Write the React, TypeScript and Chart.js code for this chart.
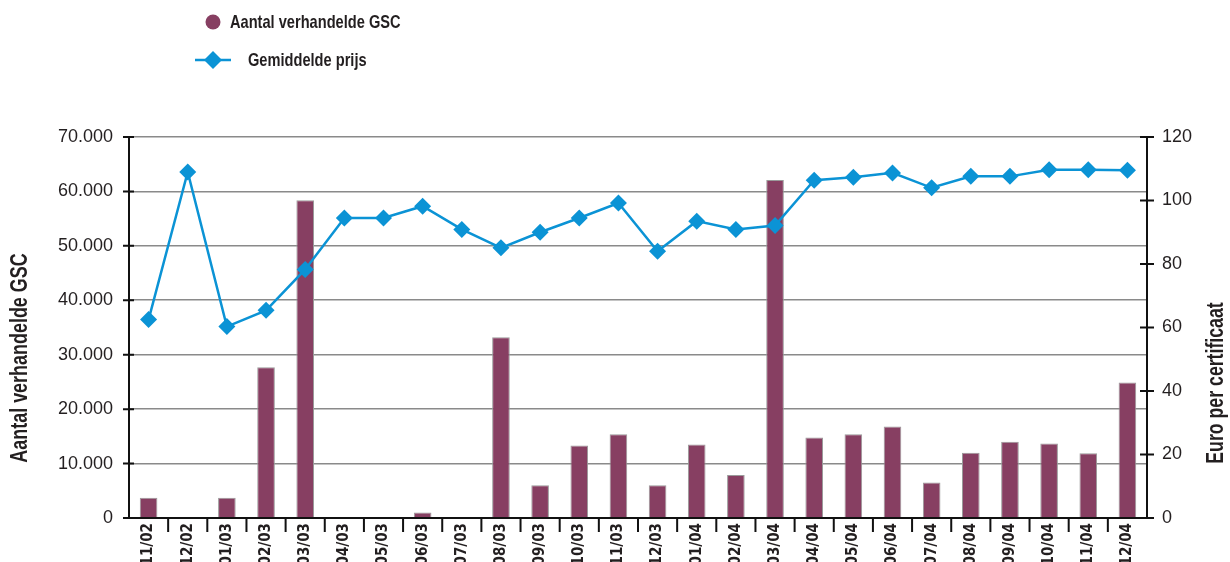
import React, { useEffect, useRef } from "react";
import { Chart, registerables } from "chart.js";

Chart.register(...registerables);

const categories = [
  "11/02", "12/02", "01/03", "02/03", "03/03", "04/03", "05/03", "06/03", "07/03", "08/03",
  "09/03", "10/03", "11/03", "12/03", "01/04", "02/04", "03/04", "04/04", "05/04", "06/04",
  "07/04", "08/04", "09/04", "10/04", "11/04", "12/04",
];
// Aantal verhandelde GSC (left axis)
const volumes = [
  3700, 0, 3700, 27700, 58400, 0, 0, 1000, 0, 33200,
  6000, 13300, 15400, 6000, 13500, 7900, 62100, 14800, 15400, 16800,
  6500, 12000, 14000, 13700, 11900, 24900,
];
// Gemiddelde prijs (right axis, euro per certificaat)
const prices = [
  62.5, 109, 60.3, 65.4, 78.3, 94.5, 94.5, 98.2, 90.9, 85.1,
  90, 94.5, 99.2, 84, 93.5, 90.9, 92.1, 106.4, 107.3, 108.7,
  104, 107.6, 107.6, 109.7, 109.7, 109.5,
];
const seriesNames = ["Aantal verhandelde GSC", "Gemiddelde prijs"];
const axisTitles = ["Aantal verhandelde GSC", "Euro per certificaat"];
const leftRange = [0, 70000, 10000];
const rightRange = [0, 120, 20];

const BAR_COLOR = "#873f62";
const LINE_COLOR = "#0b93d5";
const TEXT = "#231f20";
const NARROW = '"Liberation Sans Narrow", "DejaVu Sans Condensed", sans-serif';
const SANS = '"Liberation Sans", Arial, sans-serif';

const fmt = (v: number) => String(v).replace(/\B(?=(\d{3})+(?!\d))/g, ".");

// draw condensed text (horizontal compression)
function condensedText(ctx: any, text: string, x: number, y: number, sx: number, align: string) {
  ctx.save();
  ctx.translate(x, y);
  ctx.scale(sx, 1);
  ctx.textAlign = align;
  ctx.fillText(text, 0, 0);
  ctx.restore();
}

const decor = {
  id: "decor",
  afterDraw(chart: any) {
    const { ctx, chartArea: ca, scales } = chart;
    const x = scales.x;
    const y = scales.y;
    const y1 = scales.y1;
    ctx.save();
    ctx.strokeStyle = "#111";
    ctx.lineWidth = 2;
    ctx.beginPath();
    ctx.moveTo(ca.left, ca.top - 1);
    ctx.lineTo(ca.left, ca.bottom);
    ctx.lineTo(ca.right, ca.bottom);
    ctx.lineTo(ca.right, ca.top - 1);
    ctx.stroke();
    ctx.beginPath();
    y.ticks.forEach((t: any) => {
      const py = y.getPixelForValue(t.value);
      ctx.moveTo(ca.left - 6, py);
      ctx.lineTo(ca.left + 5, py);
    });
    y1.ticks.forEach((t: any) => {
      const py = y1.getPixelForValue(t.value);
      ctx.moveTo(ca.right - 7, py);
      ctx.lineTo(ca.right + 7, py);
    });
    for (let i = 1; i < categories.length; i++) {
      const px = (x.getPixelForValue(i - 1) + x.getPixelForValue(i)) / 2;
      ctx.moveTo(px, ca.bottom);
      ctx.lineTo(px, ca.bottom + 14);
    }
    ctx.stroke();

    // axis titles
    ctx.fillStyle = TEXT;
    ctx.font = `bold 23px ${SANS}`;
    ctx.textBaseline = "middle";
    ctx.save();
    ctx.translate(21, 358);
    ctx.rotate(-Math.PI / 2);
    condensedText(ctx, axisTitles[0], 0, 0, 0.78, "center");
    ctx.restore();
    ctx.save();
    ctx.translate(1217, 383);
    ctx.rotate(-Math.PI / 2);
    condensedText(ctx, axisTitles[1], 0, 0, 0.77, "center");
    ctx.restore();

    // legend
    const ds = chart.data.datasets;
    const barDs = ds.find((d: any) => d.type === "bar");
    const lineDs = ds.find((d: any) => d.type === "line");
    ctx.font = `bold 18.5px ${SANS}`;
    ctx.fillStyle = barDs.backgroundColor;
    ctx.beginPath();
    ctx.arc(213, 22, 7.5, 0, Math.PI * 2);
    ctx.fill();
    ctx.fillStyle = TEXT;
    condensedText(ctx, barDs.label, 230, 23, 0.79, "left");
    ctx.strokeStyle = lineDs.borderColor;
    ctx.lineWidth = 2.5;
    ctx.beginPath();
    ctx.moveTo(195, 60);
    ctx.lineTo(231, 60);
    ctx.stroke();
    ctx.fillStyle = lineDs.borderColor;
    ctx.beginPath();
    ctx.moveTo(213, 51);
    ctx.lineTo(222, 60);
    ctx.lineTo(213, 69);
    ctx.lineTo(204, 60);
    ctx.closePath();
    ctx.fill();
    ctx.fillStyle = TEXT;
    condensedText(ctx, lineDs.label, 248, 61, 0.79, "left");
    ctx.restore();
  },
};

export default function App() {
  const ref = useRef<HTMLCanvasElement | null>(null);
  useEffect(() => {
    document.body.style.margin = "0";
    const chart = new Chart(ref.current as HTMLCanvasElement, {
      type: "bar",
      data: {
        labels: categories,
        datasets: [
          {
            type: "line",
            label: seriesNames[1],
            data: prices,
            yAxisID: "y1",
            borderColor: LINE_COLOR,
            backgroundColor: LINE_COLOR,
            borderWidth: 2.5,
            pointStyle: "rectRot",
            pointRadius: 8.5,
            pointBorderWidth: 0,
            pointBackgroundColor: LINE_COLOR,
            tension: 0,
            order: 0,
          } as any,
          {
            type: "bar",
            label: seriesNames[0],
            data: volumes,
            yAxisID: "y",
            backgroundColor: BAR_COLOR,
            borderColor: "#9a9a9a",
            borderWidth: 1,
            barPercentage: 0.45,
            categoryPercentage: 1,
            order: 1,
          },
        ],
      },
      options: {
        responsive: false,
        animation: false,
        layout: { padding: { top: 137, left: 0, right: 0, bottom: 0 } },
        plugins: { legend: { display: false }, tooltip: { enabled: false } },
        scales: {
          x: {
            grid: { display: false, drawTicks: false },
            border: { display: false },
            ticks: {
              maxRotation: 90,
              minRotation: 90,
              autoSkip: false,
              padding: 5,
              color: TEXT,
              font: { family: NARROW, size: 15, weight: "bold" },
            },
            afterFit: (s: any) => {
              s.height = 44;
            },
          },
          y: {
            position: "left",
            min: leftRange[0],
            max: leftRange[1],
            grid: { color: "#8a8a8a", lineWidth: 1.6, drawTicks: false },
            border: { display: false },
            ticks: {
              stepSize: leftRange[2],
              padding: 16,
              color: TEXT,
              font: { family: SANS, size: 18 },
              callback: (v: any) => fmt(Number(v)),
            },
            afterFit: (s: any) => {
              s.width = 129;
            },
          },
          y1: {
            position: "right",
            min: rightRange[0],
            max: rightRange[1],
            grid: { display: false, drawTicks: false },
            border: { display: false },
            ticks: {
              stepSize: rightRange[2],
              padding: 15,
              color: TEXT,
              font: { family: SANS, size: 18 },
            },
            afterFit: (s: any) => {
              s.width = 83;
            },
          },
        },
      },
      plugins: [decor],
    });
    return () => chart.destroy();
  }, []);
  return (
    <div style={{ position: "fixed", left: 0, top: 0, width: 1230, height: 562 }}>
      <canvas ref={ref} width={1230} height={562} />
    </div>
  );
}
